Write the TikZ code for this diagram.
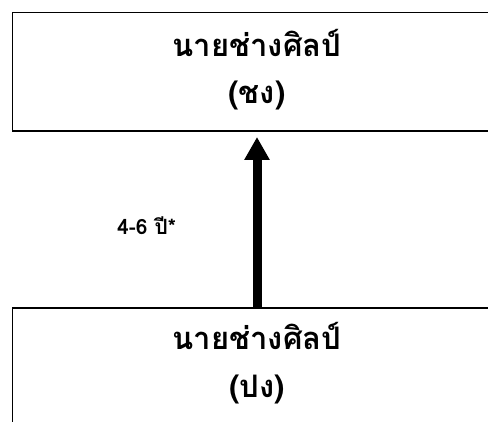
\documentclass[tikz,border=0pt]{standalone}
\usepackage{fontspec}
\newfontfamily\thaifont[Script=Thai]{Loma}
\usetikzlibrary{arrows.meta}
\begin{document}
\begin{tikzpicture}[x=1pt,y=-1pt,
  rankbox/.style={draw, line width=1.4pt, minimum width=490pt, anchor=north west, inner sep=0pt},
  ranktext/.style={anchor=base, inner sep=0pt, font=\thaifont\bfseries\fontsize{31}{43}\selectfont},
  promo/.style={line width=9pt, -{Triangle[width=24pt,length=23pt]}},
  lbl/.style={font=\thaifont\bfseries\fontsize{21}{24}\selectfont, anchor=base west, inner sep=0pt}]
\useasboundingbox (0,0) rectangle (488,422);
\clip (0,0) rectangle (488,422);
\node[rankbox, minimum height=118.5pt] (top) at (12,12) {};
\node[ranktext] (toptitle) at (257,57) {นายช่างศิลป์};
\node[ranktext] (topabbr) at (257,104) {(ชง)};
\node[rankbox, minimum height=130pt] (bot) at (12,307.5) {};
\node[ranktext] (bottitle) at (257,350) {นายช่างศิลป์};
\node[ranktext] (botabbr) at (257,398) {(ปง)};
\coordinate (tip) at (257,137);
\draw[promo] (bot.north -| tip) -- (tip);
\node[lbl] (yrs) at (117,235) {4-6 ปี*};
\end{tikzpicture}
\end{document}
